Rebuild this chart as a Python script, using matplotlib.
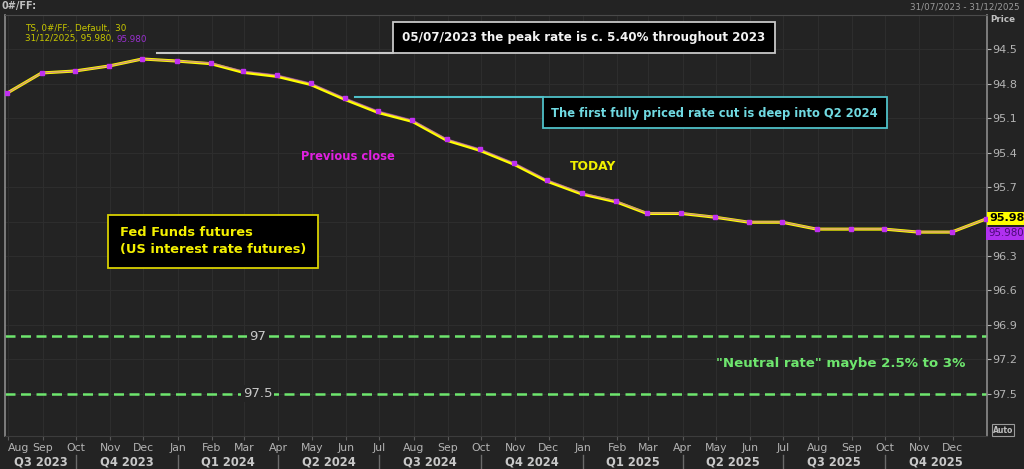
import matplotlib
matplotlib.use("Agg")
import matplotlib.pyplot as plt
import matplotlib.transforms as mtransforms
from matplotlib.patches import Rectangle
from matplotlib.lines import Line2D
import pandas as pd

# Fed funds futures strip, month-end contracts (price = 100 - rate)
dates = pd.date_range("2023-07-31", "2025-12-31", freq="ME")
prev_close = [94.881, 94.706, 94.689, 94.645, 94.584, 94.602, 94.619, 94.689,
              94.724, 94.794, 94.924, 95.037, 95.116, 95.281, 95.368, 95.490,
              95.638, 95.751, 95.821, 95.926, 95.926, 95.960, 96.004, 96.004,
              96.065, 96.065, 96.065, 96.091, 96.091, 95.978]
today = [94.881, 94.706, 94.689, 94.645, 94.584, 94.602, 94.625, 94.700,
         94.736, 94.806, 94.936, 95.050, 95.128, 95.292, 95.380, 95.502,
         95.650, 95.760, 95.828, 95.930, 95.930, 95.962, 96.006, 96.006,
         96.066, 96.066, 96.066, 96.092, 96.092, 95.978]
neutral_levels = [97.0, 97.5]
neutral_labels = ["97", "97.5"]
price_ticks = [94.5, 94.8, 95.1, 95.4, 95.7, 96.0, 96.3, 96.6, 96.9, 97.2, 97.5]
price_labels = ["94.5", "94.8", "95.1", "95.4", "95.7", "", "96.3", "96.6", "96.9", "97.2", "97.5"]
month_ticks = pd.date_range("2023-08-01", "2025-12-01", freq="MS")
quarter_starts = pd.date_range("2023-07-01", "2026-01-01", freq="QS")
quarter_names = ["Q3 2023", "Q4 2023", "Q1 2024", "Q2 2024", "Q3 2024", "Q4 2024",
                 "Q1 2025", "Q2 2025", "Q3 2025", "Q4 2025"]

BG = "#232323"
GRID = "#2d2d2d"
TXT = "#b4b4b4"
W, H = 1024, 469


def fx(p):
    return p / W


def fy(p):
    return 1 - p / H


fig = plt.figure(figsize=(W / 100, H / 100), dpi=100, facecolor=BG)
ax = fig.add_axes([fx(5), fy(436), fx(987) - fx(5), fy(15) - fy(436)], facecolor=BG)

x0 = pd.Timestamp("2023-07-29")
x1 = pd.Timestamp("2026-01-01")
ax.set_xlim(x0, x1)
ax.set_ylim(97.868, 94.201)

# grid
for d in month_ticks:
    ax.axvline(d, color=GRID, lw=0.8, zorder=0)
for v in price_ticks:
    ax.axhline(v, color=GRID, lw=0.8, zorder=0)

# neutral rate band
for lvl, lab in zip(neutral_levels, neutral_labels):
    ax.axhline(lvl, color="#6ee66e", lw=1.8, ls=(0, (4, 2.2)), zorder=2)
    ax.text(pd.Timestamp("2024-03-13"), lvl, lab, color="#c8c8c8", fontsize=9.5,
            ha="center", va="center", zorder=3,
            bbox=dict(facecolor=BG, edgecolor="none", pad=1.5))

# series
ax.plot(dates, today, color="#ffff00", lw=2.2, zorder=4, solid_joinstyle="round")
ax.plot(dates, prev_close, color="#b040e0", lw=1.0, alpha=0.55, zorder=5)
ax.plot(dates, prev_close, ls="none", marker="s", ms=3.2, color="#c030f0", zorder=6)

# axes styling
for s in ["left", "right"]:
    ax.spines[s].set_color("#8c8c8c")
    ax.spines[s].set_linewidth(1.2)
ax.spines["top"].set_color("#4a4a4a")
ax.spines["bottom"].set_color("#3c3c3c")

ax.yaxis.tick_right()
ax.set_yticks(price_ticks)
ax.set_yticklabels(price_labels)
ax.tick_params(axis="y", colors=TXT, labelsize=8, length=3, pad=1, labelcolor=TXT)
ax.set_xticks(month_ticks)
ax.set_xticklabels([d.strftime("%b") for d in month_ticks])
ax.tick_params(axis="x", colors="#5a5a5a", labelsize=7.8, length=3, pad=2, labelcolor=TXT)
first = ax.get_xticklabels()[0]
first.set_horizontalalignment("left")

# quarter labels and separators
trans = mtransforms.blended_transform_factory(ax.transData, ax.transAxes)
for i, name in enumerate(quarter_names):
    a = max(quarter_starts[i], x0)
    b = min(quarter_starts[i + 1], x1)
    mid = a + (b - a) / 2
    ax.text(mid, -0.062, name, transform=trans, ha="center", va="center",
            color="#c8c8c8", fontsize=8.3, fontweight="bold", clip_on=False)
for q in quarter_starts[1:-1]:
    ax.add_line(Line2D([q, q], [-0.045, -0.085], transform=trans, color="#6a6a6a",
                       lw=1, clip_on=False))

# last value tags
tag_tr = mtransforms.blended_transform_factory(ax.transAxes, ax.transData)
ax.text(1.002, today[-1] - 0.005, "95.98", transform=tag_tr,
        color="#000000", fontsize=8, fontweight="bold", va="center", ha="left",
        bbox=dict(facecolor="#ffff00", edgecolor="none", pad=1.2), clip_on=False)
ax.text(1.001, prev_close[-1] + 0.125, "95.980", transform=tag_tr,
        color="#4b0a78", fontsize=7.4, va="center", ha="left",
        bbox=dict(facecolor="#b030f0", edgecolor="none", pad=1.2), clip_on=False)

# header texts
fig.text(fx(2), fy(6), "0#/FF:", color="#c0c0c0", fontsize=7, fontweight="bold", va="center")
fig.text(fx(1020), fy(7), "31/07/2023 - 31/12/2025", color="#9a9a9a", fontsize=6.3,
         va="center", ha="right")
fig.text(fx(990), fy(20), "Price", color="#c0c0c0", fontsize=6.3, fontweight="bold", va="center")
fig.text(fx(25), fy(28), "TS, 0#/FF:, Default,  30", color="#c8c800", fontsize=6.3, va="center")
leg = fig.text(fx(25), fy(39), "31/12/2025, 95.980,", color="#c8c800", fontsize=6.3, va="center")
fig.canvas.draw()
end_px = leg.get_window_extent().x1
fig.text((end_px + 3) / W, fy(39), "95.980", color="#9a30d0", fontsize=6.3, va="center")

# Auto box
fig.text(fx(1003), fy(430), "Auto", color="#c0c0c0", fontsize=5.5, fontweight="bold",
         ha="center", va="center",
         bbox=dict(facecolor=BG, edgecolor="#9a9a9a", pad=0.8, lw=0.8))


def box(px0, py0, px1, py1, edge):
    fig.add_artist(Rectangle((fx(px0), fy(py1)), fx(px1) - fx(px0), fy(py0) - fy(py1),
                             transform=fig.transFigure, facecolor="#000000",
                             edgecolor=edge, lw=1.3, zorder=10))


# annotation 1: peak rate
fig.add_artist(Line2D([fx(157), fx(393)], [fy(53), fy(53)], color="#c8c8c8", lw=1.5,
                      transform=fig.transFigure, zorder=9))
box(393, 22, 775, 53, "#c8c8c8")
fig.text(fx(584), fy(38), "05/07/2023 the peak rate is c. 5.40% throughout 2023",
         color="#f2f2f2", fontsize=8.6, fontweight="bold", ha="center", va="center", zorder=11)

# annotation 2: first cut
fig.add_artist(Line2D([fx(355), fx(543)], [fy(97), fy(97)], color="#4fc0c8", lw=1.5,
                      transform=fig.transFigure, zorder=9))
box(543, 97, 887, 128, "#4fc0c8")
fig.text(fx(714), fy(113), "The first fully priced rate cut is deep into Q2 2024",
         color="#70dae2", fontsize=8.3, fontweight="bold", ha="center", va="center", zorder=11)

# annotation 3: title box
box(108, 215, 318, 268, "#d8d000")
fig.text(fx(120), fy(241), "Fed Funds futures\n(US interest rate futures)",
         color="#f4f000", fontsize=9.4, fontweight="bold", ha="left", va="center",
         linespacing=1.4, zorder=11)

fig.text(fx(348), fy(157), "Previous close", color="#e020e0", fontsize=8.3,
         fontweight="bold", ha="center", va="center")
fig.text(fx(593), fy(167), "TODAY", color="#f0f000", fontsize=8.8,
         fontweight="bold", ha="center", va="center")
fig.text(fx(841), fy(363), "\"Neutral rate\" maybe 2.5% to 3%", color="#6ee66e",
         fontsize=9.6, fontweight="bold", ha="center", va="center")

fig.savefig("out.png", dpi=100, facecolor=BG)
